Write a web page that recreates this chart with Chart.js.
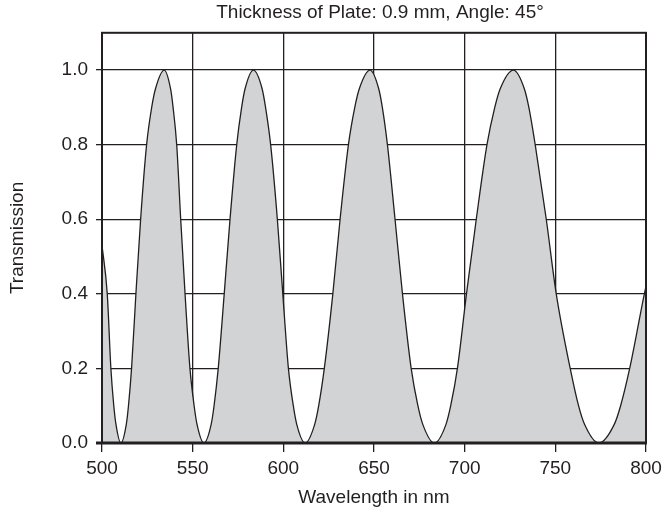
<!DOCTYPE html>
<html>
<head>
<meta charset="utf-8">
<title>Transmission vs wavelength</title>
<script src="https://cdn.jsdelivr.net/npm/chart.js@4/dist/chart.umd.min.js"></script>
<style>
  html, body { margin: 0; padding: 0; background: #fff; }
  #wrap { width: 662px; height: 515px; }
</style>
</head>
<body>
<div id="wrap"><canvas id="chart" width="662" height="515"></canvas></div>
<script>
// Wavelength (nm) and transmission: zeros, shoulders, gridline crossings, peaks
const wavelength = [
  500, 502.9, 504.9, 506.5, 507.7, 510.4, 513.4, 514.6, 516.3, 518.7, 521.3, 524.6, 527.4, 529.5,
  534.3, 537.8, 539.2, 541.2, 543.4, 545.8, 548.5, 550.8, 552.4,
  556.2, 560.2, 561.8, 564.1, 567.4, 570.6, 574.3, 577.0, 578.9,
  583.5, 588.3, 590.2, 593.0, 596.7, 599.7, 602.8, 605.5, 607.4,
  612.0, 617.3, 619.5, 622.6, 627.3, 631.3, 635.9, 639.4, 641.9,
  647.8, 652.6, 654.6, 657.4, 661.6, 665.7, 670.5, 674.2, 676.9,
  683.3, 689.7, 692.3, 696.0, 701.0, 706.4, 712.3, 716.6, 719.6,
  726.9, 732.9, 735.4, 738.9, 745.0, 750.5, 758.2, 762.8, 766.1,
  773.9, 782.5, 786.0, 791.0, 799.1, 800
];
const transmission = [
  0.53, 0.40, 0.20, 0.10, 0.05, 0.00, 0.05, 0.10, 0.20, 0.40, 0.60, 0.80, 0.90, 0.95,
  1.00, 0.95, 0.90, 0.80, 0.60, 0.40, 0.20, 0.10, 0.05,
  0.00, 0.05, 0.10, 0.20, 0.40, 0.60, 0.80, 0.90, 0.95,
  1.00, 0.95, 0.90, 0.80, 0.60, 0.40, 0.20, 0.10, 0.05,
  0.00, 0.05, 0.10, 0.20, 0.40, 0.60, 0.80, 0.90, 0.95,
  1.00, 0.95, 0.90, 0.80, 0.60, 0.40, 0.20, 0.10, 0.05,
  0.00, 0.05, 0.10, 0.20, 0.40, 0.60, 0.80, 0.90, 0.95,
  1.00, 0.95, 0.90, 0.80, 0.60, 0.40, 0.20, 0.10, 0.05,
  0.00, 0.05, 0.10, 0.20, 0.40, 0.42
];
const xTicks = [500, 550, 600, 650, 700, 750, 800];
const yTicks = [0.0, 0.2, 0.4, 0.6, 0.8, 1.0];

const FONT = "'Liberation Sans', Arial, Helvetica, sans-serif";
const INK = '#231f20';

// box around the plot, with the heavier baseline; title nudged a little right of centre
const framePlugin = {
  id: 'frame',
  afterLayout(chart) {
    const t = chart.titleBlock;
    if (t) { t.left += 6; t.right += 6; }
  },
  afterDraw(chart) {
    const { ctx, chartArea: a } = chart;
    ctx.save();
    ctx.strokeStyle = INK;
    ctx.lineWidth = 2;
    ctx.strokeRect(a.left, a.top, a.right - a.left, a.bottom - a.top);
    ctx.lineWidth = 3;
    ctx.beginPath();
    ctx.moveTo(a.left - 6, a.bottom);
    ctx.lineTo(a.right + 1, a.bottom);
    ctx.stroke();
    ctx.restore();
  }
};

const points = wavelength.map((w, i) => ({ x: w, y: transmission[i] }));

new Chart(document.getElementById('chart'), {
  type: 'line',
  data: {
    datasets: [{
      data: points,
      borderColor: INK,
      borderWidth: 1.3,
      backgroundColor: '#d1d3d4',
      fill: 'origin',
      pointRadius: 0,
      cubicInterpolationMode: 'monotone'
    }]
  },
  options: {
    responsive: false,
    animation: false,
    events: [],
    layout: { padding: { left: 0, right: 16, top: 0, bottom: 0 } },
    plugins: {
      legend: { display: false },
      tooltip: { enabled: false },
      title: {
        display: true,
        fullSize: false,
        text: 'Thickness of Plate: 0.9 mm, Angle: 45°',
        color: INK,
        font: { family: FONT, size: 19, weight: 'normal' },
        padding: { top: 1, bottom: 9 }
      }
    },
    scales: {
      x: {
        type: 'linear',
        min: 500,
        max: 800,
        z: 1,
        afterBuildTicks: s => { s.ticks = xTicks.map(v => ({ value: v })); },
        afterFit: s => { s.height = 72; s.paddingLeft = 0; s.paddingRight = 0; },
        ticks: {
          color: INK,
          padding: 5,
          maxRotation: 0,
          font: { family: FONT, size: 19 }
        },
        grid: { color: INK, lineWidth: 1.3, tickLength: 9 },
        border: { color: INK, width: 2 },
        title: {
          display: true,
          text: 'Wavelength in nm',
          color: INK,
          font: { family: FONT, size: 19 },
          padding: { top: 6, bottom: 6 }
        }
      },
      y: {
        type: 'linear',
        min: 0,
        max: 1.1,
        z: 1,
        afterBuildTicks: s => { s.ticks = yTicks.map(v => ({ value: v })); },
        afterFit: s => { s.width = 102; s.paddingTop = 0; s.paddingBottom = 0; },
        ticks: {
          color: INK,
          padding: 8,
          font: { family: FONT, size: 19 },
          callback: v => v.toFixed(1)
        },
        grid: { color: INK, lineWidth: 1.3, tickLength: 6 },
        border: { color: INK, width: 2 },
        title: {
          display: true,
          text: 'Transmission',
          color: INK,
          font: { family: FONT, size: 19 },
          padding: { top: 6, bottom: 6 }
        }
      }
    }
  },
  plugins: [framePlugin]
});
</script>
</body>
</html>
